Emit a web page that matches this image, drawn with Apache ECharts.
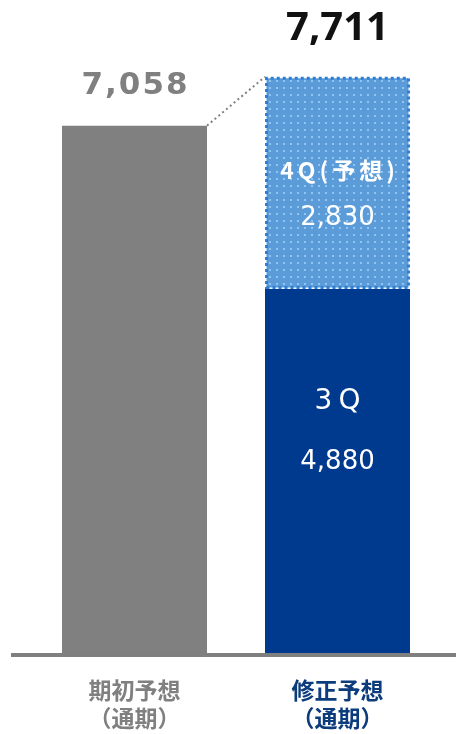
<!DOCTYPE html>
<html>
<head>
<meta charset="utf-8">
<script src="https://cdn.jsdelivr.net/npm/echarts@6/dist/echarts.min.js"></script>
<style>
  html, body { margin: 0; padding: 0; background: #ffffff; }
  #chart { width: 456px; height: 734px; }
</style>
</head>
<body>
<div id="chart"></div>
<script>
// Full-year forecast: initial plan vs revised plan (3Q actual + 4Q forecast)
const categories = ['期初予想', '修正予想'];
const categorySub = '（通期）';
const initialPlan = [7058, null];
const q3Actual = [null, 4880];
const q4Forecast = [null, 2830];
const totals = [7058, 7711];
const q3Label = '3Q';
const q4Label = '4Q(予想)';

const GRAY = '#808080';
const NAVY = '#003a8e';
const LIGHT = '#5b9bd8';

// Dotted fill for the forecast segment
function makeDotPattern() {
  const c = document.createElement('canvas');
  c.width = 7; c.height = 7;
  const g = c.getContext('2d');
  g.fillStyle = LIGHT;
  g.fillRect(0, 0, 7, 7);
  g.fillStyle = '#8fc5f4';
  g.fillRect(3, 3, 2, 2);
  return c;
}

// wrap every character in its own rich token so the style's padding spaces the letters
const spaced = (s, key) => Array.from(s).map(ch => '{' + key + '|' + ch + '}').join('');
const fmt = v => v.toLocaleString('en-US');
const barW = 145;

const chart = echarts.init(document.getElementById('chart'), null, { renderer: 'canvas' });

const catFont = { fontFamily: 'Noto Sans CJK JP', fontSize: 23, fontWeight: 'bold', lineHeight: 28 };

chart.setOption({
  animation: false,
  backgroundColor: '#ffffff',
  grid: { left: 33, right: 17, top: 55, bottom: 79 },
  xAxis: {
    type: 'category',
    data: categories,
    axisLine: { show: false },
    axisTick: { show: false },
    axisLabel: {
      margin: 21,
      formatter: (v, i) => {
        const k = i === 0 ? 'g' : 'n';
        return '{' + k + '|' + v + '}\n{' + k + '|' + categorySub + '}';
      },
      rich: {
        g: Object.assign({ color: GRAY }, catFont),
        n: Object.assign({ color: '#0d3c7c' }, catFont)
      }
    }
  },
  yAxis: { type: 'value', min: 0, max: 8000, show: false, splitLine: { show: false } },
  graphic: [{
    // baseline
    type: 'rect',
    shape: { x: 11, y: 653, width: 445, height: 4 },
    style: { fill: '#7f7f7f' },
    z: 10
  }],
  series: [
    {
      name: '期初予想',
      type: 'bar',
      stack: 'plan',
      barWidth: barW,
      data: initialPlan,
      itemStyle: { color: GRAY },
      label: {
        show: true,
        position: 'top',
        distance: 24,
        formatter: p => spaced(fmt(p.value), 'v'),
        rich: {
          v: { fontFamily: 'DejaVu Sans', fontWeight: 'bold', fontSize: 31, color: GRAY, padding: [0, 1] }
        }
      }
    },
    {
      name: '3Q',
      type: 'bar',
      stack: 'plan',
      barWidth: barW,
      data: q3Actual,
      itemStyle: { color: NAVY },
      label: {
        show: true,
        position: 'inside',
        offset: [0, -40],
        formatter: p => spaced(q3Label, 'a') + '\n{b|' + fmt(p.value) + '}',
        rich: {
          a: { fontFamily: 'DejaVu Sans', fontSize: 28, color: '#ffffff', lineHeight: 60, padding: [0, 3] },
          b: { fontFamily: 'DejaVu Sans', fontSize: 26, color: '#ffffff', lineHeight: 60 }
        }
      }
    },
    {
      name: '4Q',
      type: 'bar',
      stack: 'plan',
      barWidth: barW,
      data: q4Forecast,
      itemStyle: {
        color: { image: makeDotPattern(), repeat: 'repeat' },
        borderColor: '#2f7fd6',
        borderWidth: 3,
        borderType: [3, 3]
      },
      label: {
        show: true,
        position: 'inside',
        offset: [0, 11],
        formatter: p => spaced(q4Label, 'a') + '\n{b|' + fmt(p.value) + '}',
        rich: {
          a: { fontFamily: 'Noto Sans CJK JP', fontWeight: 'bold', fontSize: 23, color: '#ffffff', lineHeight: 48, padding: [0, 2] },
          b: { fontFamily: 'DejaVu Sans', fontSize: 26, color: '#ffffff', lineHeight: 48 }
        }
      }
    },
    {
      // zero-height cap that carries the revised total
      name: '合計',
      type: 'bar',
      stack: 'plan',
      barWidth: barW,
      data: [null, 0],
      itemStyle: { color: 'transparent' },
      label: {
        show: true,
        position: 'top',
        distance: 28,
        formatter: p => fmt(totals[p.dataIndex]),
        fontFamily: 'Noto Sans',
        fontWeight: 'bold',
        fontSize: 40,
        color: '#111111'
      }
    },
    {
      // dotted connector from the initial plan to the revised total
      type: 'custom',
      data: [[0, totals[0], 1, totals[1]]],
      z: 5,
      silent: true,
      renderItem: (params, api) => {
        const a = api.coord([api.value(0), api.value(1)]);
        const b = api.coord([api.value(2), api.value(3)]);
        return {
          type: 'line',
          shape: { x1: a[0] + barW / 2, y1: a[1], x2: b[0] - barW / 2, y2: b[1] },
          style: { stroke: GRAY, lineWidth: 2, lineDash: [2, 3] }
        };
      }
    }
  ]
});
</script>
</body>
</html>
